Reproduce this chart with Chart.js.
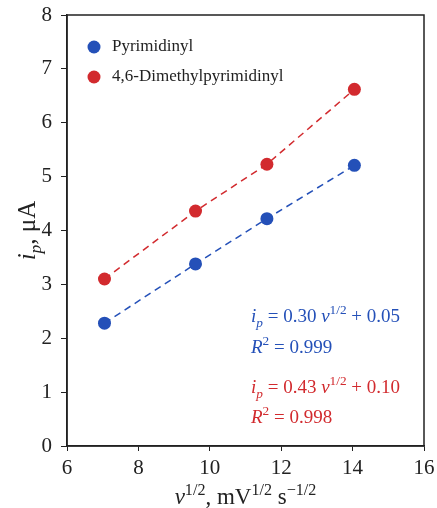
<!DOCTYPE html>
<html lang="en">
<head>
    <meta charset="UTF-8" />
    <title>Peak current vs scan rate</title>
    <style>
        body { margin: 0; background: #fff; }
        #wrap { width: 437px; height: 508px; }
    </style>
</head>
<body>
    <script src="https://cdn.jsdelivr.net/npm/chart.js"></script>
    <div id="wrap"><canvas id="chart" aria-label="Peak current vs square root of scan rate" role="img"></canvas></div>
    <script>
        "use strict";
        // values
        const seriesNames = ["Pyrimidinyl", "4,6-Dimethylpyrimidinyl"];
        const sqrtRate = [7.05, 9.6, 11.6, 14.05];
        const pyrimidinyl = [2.28, 3.38, 4.22, 5.21];
        const dimethyl = [3.10, 4.36, 5.23, 6.62];
        const xTicks = [6, 8, 10, 12, 14, 16];
        const yTicks = [0, 1, 2, 3, 4, 5, 6, 7, 8];
        const colors = ["#2450b8", "#d22a2e"];

        const serif = "'Liberation Serif', 'DejaVu Serif', serif";

        // draw a list of text pieces with super/subscripts
        function richText(ctx, parts, x, y, size, color) {
            ctx.save();
            ctx.fillStyle = color;
            ctx.textBaseline = "alphabetic";
            ctx.textAlign = "left";
            let cx = x;
            parts.forEach((p) => {
                const s = p.sup || p.sub ? size * 0.7 : size;
                ctx.font = (p.it ? "italic " : "") + s + "px " + serif;
                let dy = 0;
                if (p.sup) dy = -size * 0.4;
                if (p.sub) dy = size * 0.25;
                ctx.fillText(p.t, cx, y + dy);
                cx += ctx.measureText(p.t).width;
            });
            ctx.restore();
            return cx - x;
        }
        function richWidth(ctx, parts, size) {
            let w = 0;
            parts.forEach((p) => {
                const s = p.sup || p.sub ? size * 0.7 : size;
                ctx.font = (p.it ? "italic " : "") + s + "px " + serif;
                w += ctx.measureText(p.t).width;
            });
            return w;
        }

        const extras = {
            id: "extras",
            afterDraw(chart) {
                const ctx = chart.ctx;
                const a = chart.chartArea;
                // box around plot
                ctx.save();
                ctx.strokeStyle = "#222";
                ctx.lineWidth = 1.5;
                ctx.strokeRect(a.left, a.top, a.right - a.left, a.bottom - a.top);
                ctx.restore();

                // legend inside plot
                seriesNames.forEach((name, i) => {
                    const ly = a.top + 32 + i * 30;
                    ctx.save();
                    ctx.fillStyle = colors[i];
                    ctx.beginPath();
                    ctx.arc(a.left + 27, ly, 6.5, 0, Math.PI * 2);
                    ctx.fill();
                    ctx.fillStyle = "#222";
                    ctx.font = "17px " + serif;
                    ctx.textBaseline = "middle";
                    ctx.fillText(name, a.left + 45, ly);
                    ctx.restore();
                });

                // fit equations
                const fs = 19;
                const eqX = a.left + 184;
                richText(ctx, [{ t: "i", it: true }, { t: "p", it: true, sub: true }, { t: " = 0.30 " },
                    { t: "ν", it: true }, { t: "1/2", sup: true }, { t: " + 0.05" }], eqX, 322, fs, colors[0]);
                richText(ctx, [{ t: "R", it: true }, { t: "2", sup: true }, { t: " = 0.999" }], eqX, 353, fs, colors[0]);
                richText(ctx, [{ t: "i", it: true }, { t: "p", it: true, sub: true }, { t: " = 0.43 " },
                    { t: "ν", it: true }, { t: "1/2", sup: true }, { t: " + 0.10" }], eqX, 393, fs, colors[1]);
                richText(ctx, [{ t: "R", it: true }, { t: "2", sup: true }, { t: " = 0.998" }], eqX, 423, fs, colors[1]);

                // x title
                const xt = [{ t: "ν", it: true }, { t: "1/2", sup: true }, { t: ", mV" }, { t: "1/2", sup: true },
                    { t: " s" }, { t: "−1/2", sup: true }];
                const tw = richWidth(ctx, xt, 23);
                richText(ctx, xt, (a.left + a.right) / 2 - tw / 2, 504, 23, "#222");

                // y title
                const yt = [{ t: "i", it: true }, { t: "p", it: true, sub: true }, { t: ", μA" }];
                const yw = richWidth(ctx, yt, 25);
                ctx.save();
                ctx.translate(35, (a.top + a.bottom) / 2);
                ctx.rotate(-Math.PI / 2);
                richText(ctx, yt, -yw / 2, 0, 25, "#222");
                ctx.restore();
            },
        };

        function chartIt() {
            const ctx = document.getElementById("chart").getContext("2d");
            new Chart(ctx, {
                type: "scatter",
                data: {
                    datasets: [pyrimidinyl, dimethyl].map((ys, i) => ({
                        label: seriesNames[i],
                        data: sqrtRate.map((x, j) => ({ x: x, y: ys[j] })),
                        showLine: true,
                        borderColor: colors[i],
                        backgroundColor: colors[i],
                        borderWidth: 1.5,
                        borderDash: [7, 5],
                        pointRadius: 6.5,
                        pointBorderWidth: 0,
                    })),
                },
                plugins: [extras],
                options: {
                    responsive: true,
                    maintainAspectRatio: false,
                    animation: false,
                    layout: { padding: { top: 15, right: 13, left: 0, bottom: 0 } },
                    plugins: { legend: { display: false }, tooltip: { enabled: false } },
                    scales: {
                        x: {
                            type: "linear",
                            min: 6,
                            max: 16,
                            afterBuildTicks: (s) => { s.ticks = xTicks.map((v) => ({ value: v })); },
                            afterFit: (s) => { s.height = 62; s.paddingLeft = 0; s.paddingRight = 0; },
                            grid: { drawOnChartArea: false, drawTicks: true, tickLength: 5, color: "#222" },
                            border: { display: true, color: "#222", width: 1.5 },
                            ticks: { color: "#222", padding: 5, font: { family: serif, size: 21 } },
                        },
                        y: {
                            min: 0,
                            max: 8,
                            afterBuildTicks: (s) => { s.ticks = yTicks.map((v) => ({ value: v })); },
                            afterFit: (s) => { s.width = 67; s.paddingTop = 0; s.paddingBottom = 0; },
                            grid: { drawOnChartArea: false, drawTicks: true, tickLength: 6, color: "#222" },
                            border: { display: true, color: "#222", width: 1.5 },
                            ticks: { color: "#222", padding: 9, font: { family: serif, size: 21 } },
                        },
                    },
                },
            });
        }
        chartIt();
    </script>
</body>
</html>
